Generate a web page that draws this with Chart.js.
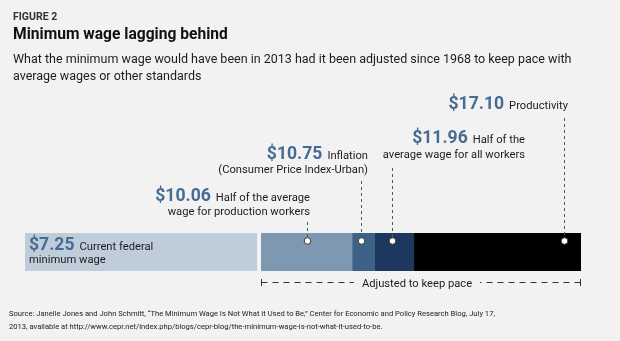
<!DOCTYPE html>
<html>
<head>
<meta charset="utf-8">
<script src="https://cdn.jsdelivr.net/npm/chart.js@4.4.1/dist/chart.umd.min.js"></script>
<style>
  html, body { margin: 0; background: #f2f2f2; }
  canvas { display: block; }
</style>
</head>
<body>
<canvas id="wage-bar" width="620" height="341"></canvas>
<script>
// minimum wage in 2013 under each adjustment standard, in dollars
const wages = [7.25, 10.06, 10.75, 11.96, 17.1];
const standards = [
  "Current federal minimum wage",
  "Half of average production wage",
  "Inflation (CPI-U)",
  "Half of average wage",
  "Productivity",
];
const captionLines = [
  ["Current federal", "minimum wage"],
  ["Half of the average", "wage for production workers"],
  ["Inflation", "(Consumer Price Index-Urban)"],
  ["Half of the", "average wage for all workers"],
  ["Productivity"],
];
// where each marker dot sits along the bar (dollars)
const markerAt = [null, 8.67, 10.34, 11.28, 16.58];

const segmentColors = ["#bfcddb", "#7d98b0", "#3e6287", "#1e375f", "#000000"];
const BG = "#f2f2f2";
const BLUE = "#466c94";
const INK = "#1c1c1c";
const FONT = "Roboto, 'Open Sans', sans-serif";
const AMOUNT_FONT = "700 17.6px " + FONT;
const CAPTION_FONT = "400 11.2px " + FONT;

// text anchor per label: alignment, x, baseline of first line, line gap, top of leader
const placement = [
  { align: "left", x: 29, y: 250, gap: 12.5 },
  { align: "right", x: 310, y: 200.5, gap: 14.5, lead: 222 },
  { align: "right", x: 368, y: 159, gap: 14, lead: 181 },
  { align: "right", x: 525, y: 142.5, gap: 15, lead: 168 },
  { align: "right", x: 568, y: 109, gap: 0, lead: 118 },
];

function labelLine(ctx, p, y, amount, text) {
  ctx.textBaseline = "alphabetic";
  ctx.textAlign = "left";
  ctx.font = AMOUNT_FONT;
  const aw = amount ? ctx.measureText(amount).width : 0;
  ctx.font = CAPTION_FONT;
  const tw = ctx.measureText(text).width;
  const space = amount ? 5 : 0;
  const x = p.align === "left" ? p.x : p.x - (aw + space + tw);
  if (amount) {
    ctx.font = AMOUNT_FONT;
    ctx.fillStyle = BLUE;
    ctx.fillText(amount, x, y);
  }
  ctx.font = CAPTION_FONT;
  ctx.fillStyle = INK;
  ctx.fillText(text, x + aw + space, y);
}

const annotations = {
  id: "annotations",
  beforeDraw(chart) {
    const ctx = chart.ctx;
    ctx.save();
    ctx.fillStyle = BG;
    ctx.fillRect(0, 0, chart.width, chart.height);
    ctx.restore();
  },
  afterDatasetsDraw(chart) {
    const ctx = chart.ctx;
    const xs = chart.scales.x;
    const area = chart.chartArea;
    const dotY = area.top + 8;
    ctx.save();

    // heading block
    ctx.textBaseline = "alphabetic";
    ctx.fillStyle = "#333";
    ctx.font = "700 10.5px " + FONT;
    ctx.fillText("FIGURE 2", 13, 19.5);
    ctx.fillStyle = "#111";
    ctx.font = "700 15.6px " + FONT;
    ctx.fillText("Minimum wage lagging behind", 13, 38.5);
    ctx.fillStyle = INK;
    ctx.font = "400 12.5px " + FONT;
    ctx.fillText("What the minimum wage would have been in 2013 had it been adjusted since 1968 to keep pace with", 13, 63);
    ctx.fillText("average wages or other standards", 13, 80);

    // leaders and dots
    wages.forEach((w, i) => {
      if (markerAt[i] == null) return;
      const px = Math.round(xs.getPixelForValue(markerAt[i])) + 0.5;
      ctx.strokeStyle = "#555";
      ctx.lineWidth = 1;
      ctx.setLineDash([3, 3]);
      ctx.beginPath();
      ctx.moveTo(px, placement[i].lead);
      ctx.lineTo(px, dotY - 4);
      ctx.stroke();
      ctx.setLineDash([]);
      ctx.beginPath();
      ctx.arc(px, dotY, 3.3, 0, Math.PI * 2);
      ctx.fillStyle = "#fff";
      ctx.fill();
      ctx.strokeStyle = "#3a3a3a";
      ctx.stroke();
    });

    // dollar labels
    wages.forEach((w, i) => {
      const p = placement[i];
      const lines = captionLines[i];
      labelLine(ctx, p, p.y, "$" + w.toFixed(2), lines[0]);
      if (lines[1]) labelLine(ctx, p, p.y + p.gap, "", lines[1]);
    });

    // bracket under the adjusted part of the bar
    const x0 = Math.round(xs.getPixelForValue(wages[0])) + 0.5;
    const x1 = Math.round(xs.getPixelForValue(wages[wages.length - 1])) - 0.5;
    const by = area.bottom + 11.5;
    const caption = "Adjusted to keep pace";
    ctx.font = CAPTION_FONT;
    const cw = ctx.measureText(caption).width;
    const cx = (x0 + x1) / 2 - 4;
    ctx.fillStyle = INK;
    ctx.textAlign = "center";
    ctx.fillText(caption, cx, by + 4);
    ctx.strokeStyle = "#333";
    ctx.lineWidth = 1;
    ctx.beginPath();
    ctx.moveTo(x0, by - 3.5);
    ctx.lineTo(x0, by + 3.5);
    ctx.moveTo(x1, by - 3.5);
    ctx.lineTo(x1, by + 3.5);
    ctx.stroke();
    ctx.setLineDash([6, 5]);
    ctx.beginPath();
    ctx.moveTo(x0, by);
    ctx.lineTo(cx - cw / 2 - 8, by);
    ctx.stroke();
    ctx.beginPath();
    ctx.moveTo(x1, by);
    ctx.lineTo(cx + cw / 2 + 8, by);
    ctx.stroke();
    ctx.setLineDash([]);

    // source note
    ctx.textAlign = "left";
    ctx.fillStyle = "#222";
    ctx.font = "400 7.6px " + FONT;
    ctx.fillText("Source: Janelle Jones and John Schmitt, \u201cThe Minimum Wage Is Not What It Used to Be,\u201d Center for Economic and Policy Research Blog, July 17,", 9, 316);
    ctx.fillText("2013, available at http://www.cepr.net/index.php/blogs/cepr-blog/the-minimum-wage-is-not-what-it-used-to-be.", 9, 329);

    ctx.restore();
  },
};

// each segment runs from the previous standard up to its own value
const datasets = wages.map((w, i) => ({
  label: standards[i],
  data: [[i === 0 ? 0 : wages[i - 1], w]],
  backgroundColor: segmentColors[i],
  borderColor: BG,
  borderWidth: i === 0 ? { top: 0, bottom: 0, left: 0, right: 4 } : 0,
  borderSkipped: false,
  grouped: false,
  barPercentage: 1,
  categoryPercentage: 1,
}));

new Chart(document.getElementById("wage-bar"), {
  type: "bar",
  data: { labels: ["2013"], datasets: datasets },
  options: {
    indexAxis: "y",
    responsive: false,
    animation: false,
    devicePixelRatio: 1,
    layout: { padding: { left: 25, right: 39, top: 233, bottom: 70 } },
    scales: {
      x: { display: false, min: 0, max: wages[wages.length - 1] },
      y: { display: false },
    },
    plugins: { legend: { display: false }, tooltip: { enabled: false } },
  },
  plugins: [annotations],
});
</script>
</body>
</html>
